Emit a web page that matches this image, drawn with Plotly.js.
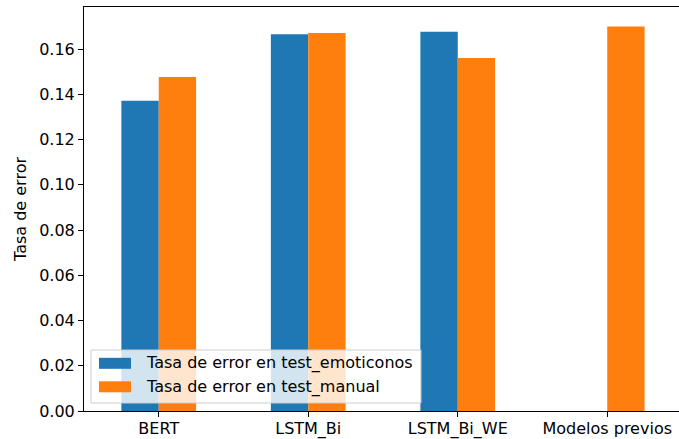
<!DOCTYPE html>
<html>
<head>
<meta charset="utf-8">
<script src="https://cdn.plot.ly/plotly-3.0.1.min.js"></script>
<style>html,body{margin:0;padding:0;background:#fff;}#chart{width:679px;height:439px;}</style>
</head>
<body>
<div id="chart"></div>
<script>
const categories = ["BERT", "LSTM_Bi", "LSTM_Bi_WE", "Modelos previos"];
const seriesNames = ["Tasa de error en test_emoticonos", "Tasa de error en test_manual"];
const seriesColors = ["#1f77b4", "#ff7f0e"];
const testEmoticonos = [0.1371, 0.1665, 0.1677, null];
const testManual = [0.1476, 0.1671, 0.1560, 0.1700];
const yTickVals = [0.00, 0.02, 0.04, 0.06, 0.08, 0.10, 0.12, 0.14, 0.16];
const yTickText = ["0.00", "0.02", "0.04", "0.06", "0.08", "0.10", "0.12", "0.14", "0.16"];

const font = {family: "DejaVu Sans, sans-serif", size: 16, color: "#000"};

// plot-area geometry (pixels) used to place the legend box in paper coordinates
const W = 679, H = 439, ML = 84, MR = 0, MT = 7, MB = 28;
const PW = W - ML - MR, PH = H - MT - MB;
const px = v => (v - ML) / PW;
const py = v => (H - MB - v) / PH;

const traces = [
  {type: "bar", name: seriesNames[0], x: categories, y: testEmoticonos, marker: {color: seriesColors[0]}},
  {type: "bar", name: seriesNames[1], x: categories, y: testManual, marker: {color: seriesColors[1]}}
];

const rowCenters = [363.3, 386.8];
const shapes = [
  {
    type: "rect", xref: "paper", yref: "paper", layer: "above",
    x0: px(91), x1: px(421), y0: py(403), y1: py(350),
    fillcolor: "rgba(255,255,255,0.8)",
    line: {color: "#cccccc", width: 1}
  }
];
const annotations = [];
seriesNames.forEach((name, i) => {
  const c = rowCenters[i];
  shapes.push({
    type: "rect", xref: "paper", yref: "paper", layer: "above",
    x0: px(99), x1: px(131), y0: py(c + 5.5), y1: py(c - 5.5),
    fillcolor: seriesColors[i], line: {width: 0}
  });
  annotations.push({
    xref: "paper", yref: "paper", x: px(144), y: py(c),
    xanchor: "left", yanchor: "middle", showarrow: false,
    text: name, font: font
  });
});

const layout = {
  width: W, height: H,
  margin: {l: ML, r: MR, t: MT, b: MB, pad: 0},
  paper_bgcolor: "#fff", plot_bgcolor: "#fff",
  font: font,
  barmode: "group", bargap: 0.5, bargroupgap: 0,
  showlegend: false,
  shapes: shapes,
  annotations: annotations,
  xaxis: {
    type: "category", range: [-0.5, 3.48],
    showgrid: false, zeroline: false,
    showline: true, linecolor: "#000", linewidth: 1, mirror: true,
    ticks: "outside", ticklen: 5, tickcolor: "#000", tickwidth: 1,
    tickfont: font, ticklabelstandoff: -2
  },
  yaxis: {
    range: [0, 0.1786],
    tickvals: yTickVals, ticktext: yTickText,
    showgrid: false, zeroline: false,
    showline: true, linecolor: "#000", linewidth: 1, mirror: false,
    ticks: "outside", ticklen: 5, tickcolor: "#000", tickwidth: 1,
    tickfont: font,
    title: {text: "Tasa de error", font: font, standoff: 8}
  }
};

Plotly.newPlot("chart", traces, layout, {displayModeBar: false, staticPlot: true});
</script>
</body>
</html>
